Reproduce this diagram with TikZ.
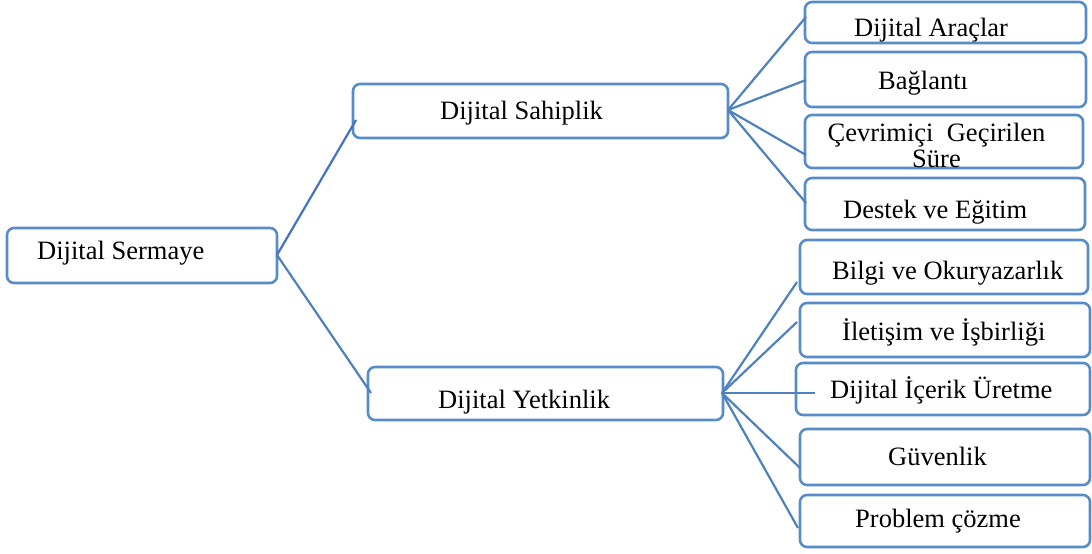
\documentclass[tikz,border=0pt]{standalone}
\usepackage{fontspec}
\setmainfont{Liberation Serif}
\definecolor{boxblue}{RGB}{88,140,200}
\definecolor{lineblue}{RGB}{79,129,189}
\definecolor{lineblue2}{RGB}{68,114,196}
\tikzset{
  box/.style={draw=boxblue, line width=2.6pt, rounded corners=7pt, inner sep=0pt, outer sep=0pt},
  lbl/.style={anchor=base west, inner sep=0pt, font=\fontsize{26.5}{28}\selectfont},
  lblc/.style={anchor=base, inner sep=0pt, font=\fontsize{26.5}{28}\selectfont},
  conn/.style={draw=lineblue, line width=2.2pt},
}
\begin{document}
\begin{tikzpicture}[x=1pt,y=-1pt]
\useasboundingbox (0,0) rectangle (1092,554);
% boxes
\node[box, minimum width=270pt, minimum height=55pt] (sermaye) at (142,255.5) {};
\node[box, minimum width=375pt, minimum height=54pt] (sahiplik) at (540.5,111) {};
\node[box, minimum width=355pt, minimum height=53pt] (yetkinlik) at (545.5,393.5) {};
\node[box, minimum width=281pt, minimum height=41pt] (araclar) at (945.5,22.5) {};
\node[box, minimum width=281pt, minimum height=55pt] (baglanti) at (945.5,79.5) {};
\node[box, minimum width=278pt, minimum height=53pt] (cevrim) at (944,141.5) {};
\node[box, minimum width=280pt, minimum height=52pt] (destek) at (945,204) {};
\node[box, minimum width=288pt, minimum height=54pt] (bilgi) at (944,267) {};
\node[box, minimum width=290pt, minimum height=54pt] (iletisim) at (945,330) {};
\node[box, minimum width=294pt, minimum height=52pt] (icerik) at (943,389) {};
\node[box, minimum width=290pt, minimum height=56pt] (guvenlik) at (945,457) {};
\node[box, minimum width=290pt, minimum height=52pt] (problem) at (945,521) {};
% texts
\node[lbl] (t-sermaye) at (37,259.6) {Dijital Sermaye};
\node[lbl] (t-sahiplik) at (440,119.6) {Dijital Sahiplik};
\node[lbl] (t-yetkinlik) at (438,408.6) {Dijital Yetkinlik};
\node[lbl] (t-araclar) at (854,36) {Dijital Araçlar};
\node[lbl] (t-baglanti) at (878,89.6) {Bağlantı};
\node[lblc] (t-cevrim1) at (936.5,141.5) {Çevrimiçi\ \ Geçirilen};
\node[lblc] (t-cevrim2) at (936.5,167.5) {Süre};
\node[lbl] (t-destek) at (843,218.6) {Destek ve Eğitim};
\node[lbl] (t-bilgi) at (832,279.6) {Bilgi ve Okuryazarlık};
\node[lbl] (t-iletisim) at (842,340.6) {İletişim ve İşbirliği};
\node[lbl] (t-icerik) at (830,398.6) {Dijital İçerik Üretme};
\node[lbl] (t-guvenlik) at (888,465.6) {Güvenlik};
\node[lbl] (t-problem) at (855,527.6) {Problem çözme};
% connector end points
\coordinate (se-out) at (277,255);
\coordinate (sp-in) at (356,120);
\coordinate (ye-in) at (371,393);
\coordinate (sp-out) at (728,110);
\coordinate (ar-in) at (806,17);
\coordinate (ba-in) at (806,80);
\coordinate (ce-in) at (806,155);
\coordinate (de-in) at (806,203);
\coordinate (ye-out) at (722,393);
\coordinate (bi-in) at (797,282);
\coordinate (il-in) at (797,322);
\coordinate (ic-in) at (815,393);
\coordinate (gu-in) at (800,468);
\coordinate (pr-in) at (798,528);
% connectors
\draw[conn, draw=lineblue2] (se-out) -- (sp-in);
\draw[conn] (se-out) -- (ye-in);
\draw[conn] (sp-out) -- (ar-in);
\draw[conn] (sp-out) -- (ba-in);
\draw[conn] (sp-out) -- (ce-in);
\draw[conn] (sp-out) -- (de-in);
\draw[conn] (ye-out) -- (bi-in);
\draw[conn] (ye-out) -- (il-in);
\draw[conn] (ye-out) -- (ic-in);
\draw[conn] (ye-out) -- (gu-in);
\draw[conn] (ye-out) -- (pr-in);
\end{tikzpicture}
\end{document}
